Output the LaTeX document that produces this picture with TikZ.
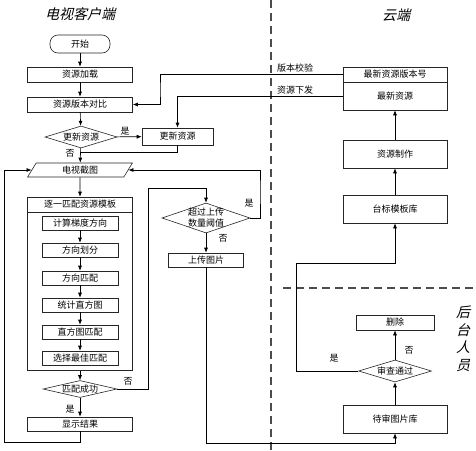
\documentclass[tikz,border=0pt]{standalone}
\usepackage{fontspec}
\newfontfamily\cjk{Noto Sans CJK SC}
\newfontfamily\cjktitle[FakeSlant=0.25]{Noto Sans CJK SC}
\usetikzlibrary{shapes.geometric,arrows.meta}
\tikzset{
  box/.style={draw=black!85, minimum width=105, minimum height=15, inner sep=0},
  subbox/.style={draw=black!85, minimum width=76, minimum height=14, inner sep=0},
  term/.style={draw=black!85, rounded corners=8pt, minimum width=60, minimum height=18, inner sep=0},
  dec/.style={draw=black!85, diamond, inner sep=-1pt},
  slant/.style={draw=black!85, trapezium, trapezium left angle=67, trapezium right angle=113,
    trapezium stretches=true, minimum width=105, minimum height=14, inner sep=0},
  lbl/.style={inner sep=1pt},
  title/.style={font=\cjktitle\fontsize{14}{17.5}\selectfont},
  lane/.style={draw=black!70, line width=1.2pt, dash pattern=on 8pt off 5pt},
}
\begin{document}
\begin{tikzpicture}[x=1pt, y=-1pt, >={Latex[length=5pt,width=4pt]}, line width=0.6pt,
    every node/.append style={font=\cjk\fontsize{9}{11}\selectfont}]
  \useasboundingbox (0,0) rectangle (476,450);
  % swim lanes
  \draw[lane] (271,0) -- (271,450);
  \draw[lane] (283,288) -- (476,288);
  \node[title] (tv) at (80,14) {电视客户端};
  \node[title] (cloud) at (396,15) {云端};
  \node[title, align=center] (staff) at (463,339) {后\\台\\人\\员};

  % client side
  \node[term] (start) at (80,44) {开始};
  \node[box] (load) at (80,74.5) {资源加载};
  \node[box] (cmp) at (80,104.5) {资源版本对比};
  \node[dec, aspect=3.3, minimum width=72, minimum height=22] (chk) at (81,137) {更新资源};
  \node[box, minimum width=71, minimum height=17] (upd) at (177.5,136.5) {更新资源};
  \node[slant] (shot) at (80,170) {电视截图};
  \node[box] (hdr) at (80,204.5) {逐一匹配资源模板};
  \node[box, minimum height=158, line width=1pt] (body) at (80,291) {};
  \foreach \n/\t/\y in {s1/计算梯度方向/223, s2/方向划分/250, s3/方向匹配/278,
      s4/统计直方图/305, s5/直方图匹配/332, s6/选择最佳匹配/358}{
    \node[subbox] (\n) at (80,\y) {\t};
  }
  \foreach \a/\b in {s1/s2, s2/s3, s3/s4, s4/s5, s5/s6}{
    \draw[->] (\a) -- (\b);
  }
  \node[dec, aspect=4.3, minimum width=74, minimum height=17] (ok) at (80,389) {匹配成功};
  \node[box, minimum height=14] (show) at (80,424) {显示结果};
  \node[dec, aspect=2.9, minimum width=88, minimum height=30, align=center] (thr) at (206,218) {超过上传\\数量阈值};
  \node[box, minimum width=75, minimum height=14] (upl) at (206,260) {上传图片};

  % cloud and staff side
  \node[box, minimum width=104] (ver) at (395,74.5) {最新资源版本号};
  \node[box, minimum width=104, minimum height=28] (res) at (395,96) {最新资源};
  \node[box, minimum width=104, minimum height=28] (make) at (395,154) {资源制作};
  \node[box, minimum width=104, minimum height=28] (lib) at (395,209) {台标模板库};
  \node[box, minimum width=78] (del) at (395,322.5) {删除};
  \node[dec, aspect=3.3, minimum width=73, minimum height=22] (rev) at (395,371) {审查通过};
  \node[box, minimum width=104, minimum height=28] (wait) at (395,419) {待审图片库};

  % bend points
  \coordinate (j1) at (80,152);
  \coordinate (c1) at (160,90);
  \coordinate (c2) at (4,442);
  \coordinate (c3) at (260,190);
  \coordinate (c4) at (148,188);
  \coordinate (c5) at (206,443);
  \coordinate (c6) at (296,263);

  \draw[->] (start) -- (load);
  \draw[->] (load) -- (cmp);
  \draw[->] (cmp) -- (chk);
  \draw[->] (chk) -- (upd);
  \draw[->] (chk) -- (shot);
  \draw (upd.south) |- (j1);
  \draw[->] (ver.west) -| (c1) |- (cmp.east);
  \draw[->] (res.west) -| (upd.north);
  \draw[->] (show.south) |- (c2) |- (shot.west);
  \draw[->] (thr.east) -| (c3) |- (shot.east);
  \draw[->] (shot) -- (hdr);
  \draw[->] (body.south) -- (ok.north);
  \draw[->] (ok.east) -| (c4) -| (thr.north);
  \draw[->] (ok) -- (show);
  \draw[->] (thr) -- (upl);
  \draw[->] (upl.south) -- (c5) -| (wait.south);
  \draw[->] (wait) -- (rev);
  \draw[->] (rev) -- (del);
  \draw[->] (rev.west) -| (c6) -| (lib.south);
  \draw[->] (lib) -- (make);
  \draw[->] (make) -- (res);

  % branch labels
  \node[lbl] (y1) at (125,131) {是};
  \node[lbl] (n1) at (70,153) {否};
  \node[lbl] (y2) at (249,203) {是};
  \node[lbl] (n2) at (223,238) {否};
  \node[lbl] (n3) at (128,381) {否};
  \node[lbl] (y3) at (70,409) {是};
  \node[lbl] (y4) at (334,358) {是};
  \node[lbl] (n4) at (409,350) {否};
  \node[lbl] (t1) at (295,68) {版本校验};
  \node[lbl] (t2) at (295,90) {资源下发};
\end{tikzpicture}
\end{document}
